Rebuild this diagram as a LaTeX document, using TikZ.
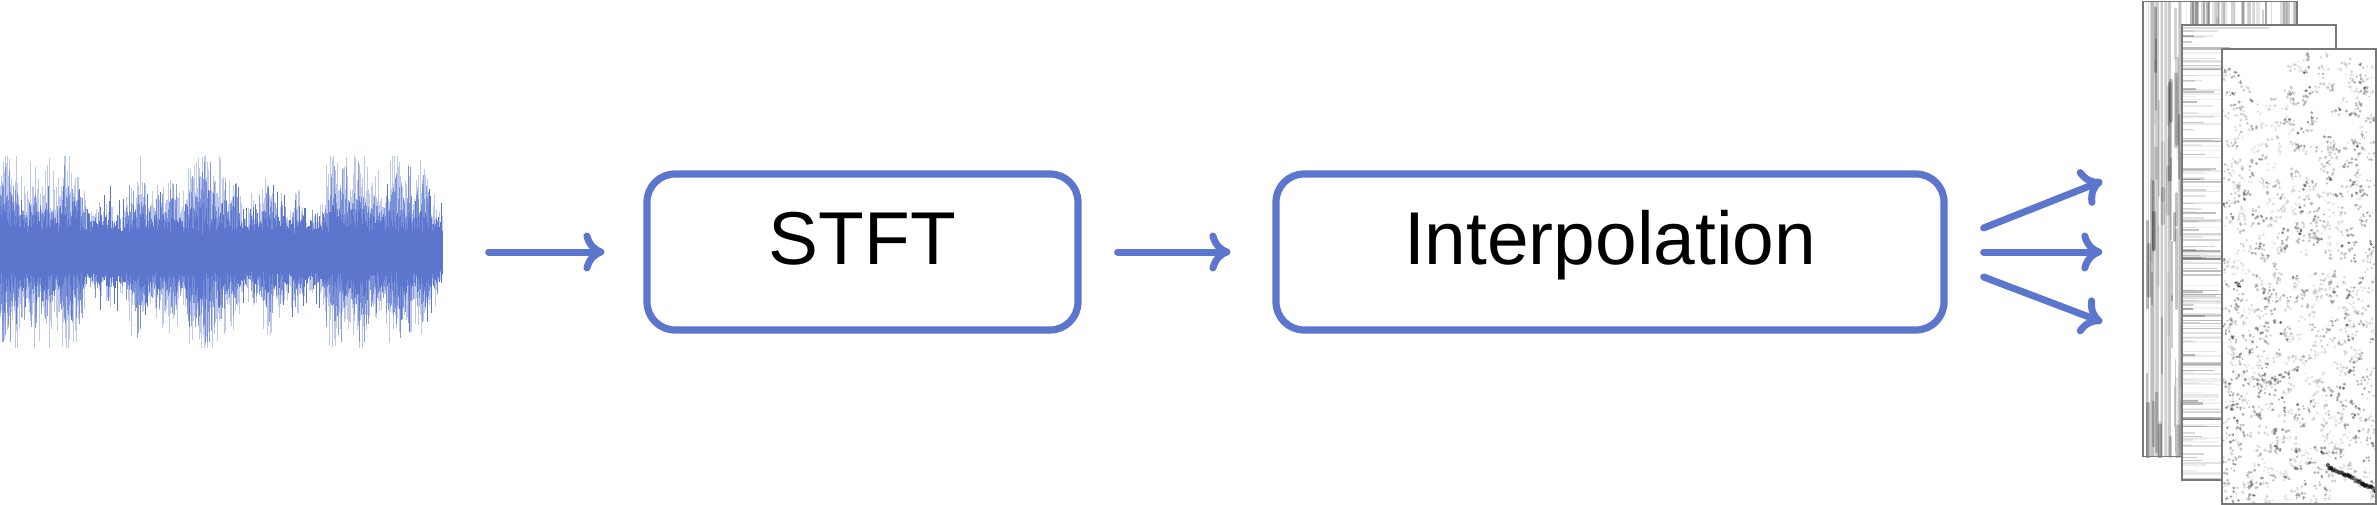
\documentclass[tikz,border=0pt]{standalone}
\usepackage{fontspec}
\setmainfont{Liberation Sans}
\usetikzlibrary{arrows.meta,calc}
\definecolor{wblue}{RGB}{92,118,206}
\definecolor{fgray}{RGB}{120,120,120}
\begin{document}
\begin{tikzpicture}[x=0.1mm,y=-0.1mm,
  procbox/.style={draw=wblue, line width=0.72mm, rounded corners=2.8mm, fill=white,
    inner sep=0pt, text depth=0pt, text height=0.716em,
    font=\fontsize{21.3}{25}\selectfont, minimum height=15.6mm},
  arr/.style={draw=wblue, line width=0.7mm, line cap=round,
    -{Computer Modern Rightarrow[length=2.1mm,width=3.9mm]}},
  specframe/.style={draw=fgray, line width=0.15mm, fill=white,
    minimum width=15.4mm, minimum height=45.5mm, inner sep=0pt}]
\useasboundingbox (0,0) rectangle (2377,505);
\pgfmathsetseed{11}
\pgfmathdeclarefunction{env}{1}{%
  \pgfmathparse{max(0.5,1+0.28*sin(#1*2.1+30)+0.22*sin(#1*5.3+70)+0.18*sin(#1*11.1+10)+0.12*sin(#1*23+50))}}

% waveform
\node[inner sep=0pt, minimum width=44.3mm, minimum height=19mm] (wave) at (221.5,252) {};
\begin{scope}[wblue, line width=0.1mm]
  \draw[opacity=0.4] \foreach \i in {0,...,1265} {
    ({\i*0.35},{252-min(96,env(\i*0.35)*(30+22*rnd^2+40*rnd^5))}) --
    ({\i*0.35},{252+min(96,env(\i*0.35)*(30+22*rnd^2+40*rnd^5))}) };
  \draw[opacity=0.7] \foreach \i in {0,...,1265} {
    ({\i*0.35},{252-min(90,env(\i*0.35)*(24+18*rnd^2+35*rnd^8))}) --
    ({\i*0.35},{252+min(90,env(\i*0.35)*(24+18*rnd^2+35*rnd^8))}) };
  \draw[opacity=1] \foreach \i in {0,...,1265} {
    ({\i*0.35},{252-(16+8*rnd+18*env(\i*0.35)*rnd^3+40*rnd^16)}) --
    ({\i*0.35},{252+(16+8*rnd+18*env(\i*0.35)*rnd^3+40*rnd^16)}) };
\end{scope}

% process boxes
\node[procbox, minimum width=43.1mm] (stft) at (862.5,252) {STFT};
\node[procbox, minimum width=66.8mm] (interp) at (1610,252) {Interpolation};

% spectrogram frames
\node[specframe] (s1) at (2220,229) {};
\begin{scope}
  \clip (s1.south west) rectangle (s1.north east);
  \foreach \k in {1,...,60} {
    \pgfmathsetmacro{\xx}{2143+rnd*154}
    \pgfmathsetmacro{\oo}{0.04+0.18*rnd}
    \pgfmathsetmacro{\ww}{0.1+0.3*rnd}
    \draw[black, opacity=\oo, line width=\ww mm] (\xx,1) -- (\xx,457);
  }
  \foreach \k in {1,...,140} {
    \pgfmathsetmacro{\xx}{2143+rnd*154}
    \pgfmathsetmacro{\yy}{rnd*450}
    \pgfmathsetmacro{\ll}{20+rnd*80}
    \pgfmathsetmacro{\oo}{0.05+0.22*rnd}
    \pgfmathsetmacro{\ww}{0.15+0.25*rnd}
    \draw[black, opacity=\oo, line width=\ww mm, line cap=round] (\xx,\yy) -- (\xx,\yy+\ll);
  }
\end{scope}
\node[specframe, fill=none] at (s1) {};

\node[specframe] (s2) at (2259,252.5) {};
\begin{scope}
  \clip (s2.south west) rectangle (s2.north east);
  \foreach \k in {1,...,200} {
    \pgfmathsetmacro{\yy}{26+rnd*455}
    \pgfmathsetmacro{\ll}{10+rnd*rnd*150}
    \pgfmathsetmacro{\oo}{0.05+0.22*rnd^2}
    \pgfmathsetmacro{\ww}{0.08+0.15*rnd}
    \draw[black, opacity=\oo, line width=\ww mm] (2182,\yy) -- (2182+\ll,\yy);
  }
\end{scope}
\node[specframe, fill=none] at (s2) {};

\node[specframe] (s3) at (2299,276.5) {};
\begin{scope}
  \clip (s3.south west) rectangle (s3.north east);
  \foreach \k in {1,...,700} {
    \pgfmathsetmacro{\cx}{2222+rnd*154}
    \pgfmathsetmacro{\cy}{49+455*rnd^0.8}
    \pgfmathsetmacro{\oo}{0.1+0.3*rnd^2}
    \foreach \j in {1,...,4} {
      \fill[black, opacity=\oo] ({\cx+8*rnd-4},{\cy+8*rnd-4}) circle ({0.9+0.9*rnd});
    }
  }
  \foreach \k in {0,...,30} {
    \pgfmathsetmacro{\oo}{0.35+0.4*rnd}
    \fill[black, opacity=\oo] ({2328+\k*1.6},{465+\k*0.8+3*rnd}) circle (2.2);
  }
\end{scope}
\node[specframe, fill=none] at (s3) {};

% connectors
\draw[arr] ($(wave.east)+(45,0)$) -- ($(stft.west)+(-39,0)$);
\draw[arr] ($(stft.east)+(36,0)$) -- ($(interp.west)+(-42,0)$);
\coordinate (t) at (s1.west |- interp.east);
\draw[arr] ($(interp.east)+(36,-24)$) -- ($(t)+(-40,-71)$);
\draw[arr] ($(interp.east)+(36,0)$) -- ($(t)+(-40,0)$);
\draw[arr] ($(interp.east)+(36,25)$) -- ($(t)+(-40,70)$);
\end{tikzpicture}
\end{document}
